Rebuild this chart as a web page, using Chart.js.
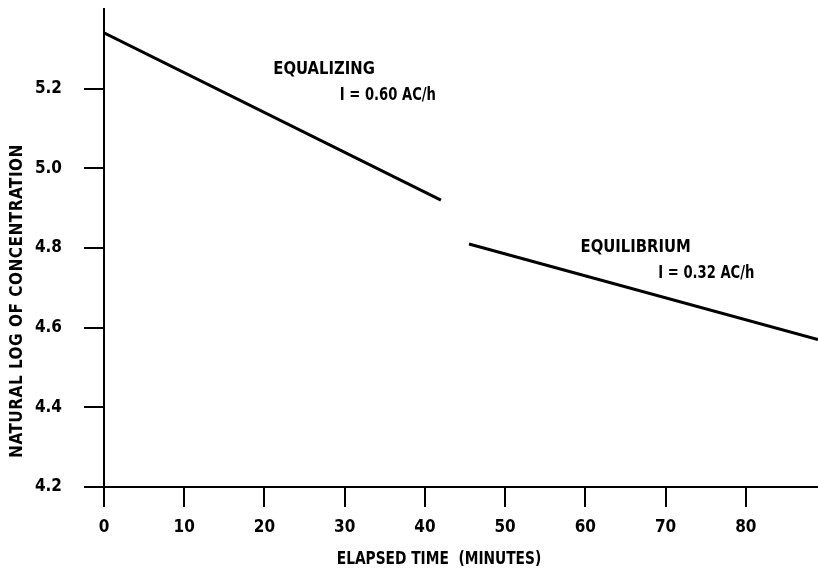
<!DOCTYPE html>
<html>
<head>
<meta charset="utf-8">
<script src="https://cdn.jsdelivr.net/npm/chart.js@4/dist/chart.umd.min.js"></script>
<style>
  html, body { margin: 0; padding: 0; background: #fff; }
  canvas { display: block; }
</style>
</head>
<body>
<canvas id="chart" width="818" height="574"></canvas>
<script>
// two regression segments
const equalizingTime = [0, 42];
const equalizingLog = [5.34, 4.92];
const equilibriumTime = [45.5, 89];
const equilibriumLog = [4.81, 4.57];

const xTicks = [0, 10, 20, 30, 40, 50, 60, 70, 80];
const yTicks = [4.2, 4.4, 4.6, 4.8, 5.0, 5.2];

const notes = [
    { text: 'EQUALIZING', x: 21.1, y: 5.248 },
    { text: 'I = 0.60 AC/h', x: 29.4, y: 5.182 },
    { text: 'EQUILIBRIUM', x: 59.4, y: 4.80 },
    { text: 'I = 0.32 AC/h', x: 69.1, y: 4.737 }
];

const FONT = '"Liberation Sans Narrow", "DejaVu Sans Condensed", "Arial Narrow", sans-serif';

function toPoints(xs, ys) {
    return xs.map((x, i) => ({ x: x, y: ys[i] }));
}

// squeeze text a little, the original lettering is condensed
function narrowText(ctx, text, x, y, squeeze) {
    ctx.save();
    ctx.translate(x, y);
    ctx.scale(squeeze, 1);
    ctx.fillText(text, 0, 0);
    ctx.restore();
}

const textPlugin = {
    id: 'texts',
    afterDraw(chart) {
        const ctx = chart.ctx;
        const sx = chart.scales.x;
        const sy = chart.scales.y;
        ctx.save();
        ctx.fillStyle = '#000';
        ctx.font = 'bold 17px ' + FONT;
        ctx.textBaseline = 'middle';
        ctx.textAlign = 'left';
        notes.forEach(n => {
            const sq = n.text.startsWith('I') ? 0.86 : 0.97;
            narrowText(ctx, n.text, sx.getPixelForValue(n.x), sy.getPixelForValue(n.y), sq);
        });

        // axis titles
        ctx.textAlign = 'center';
        narrowText(ctx, 'ELAPSED TIME  (MINUTES)', 439, 560, 0.9);
        ctx.translate(18, 301);
        ctx.rotate(-Math.PI / 2);
        ctx.letterSpacing = '0.5px';
        ctx.fillText('NATURAL LOG OF CONCENTRATION', 0, 0);
        ctx.restore();
    }
};

new Chart(document.getElementById('chart'), {
    type: 'scatter',
    data: {
        datasets: [
            {
                label: 'Equalizing',
                data: toPoints(equalizingTime, equalizingLog),
                showLine: true,
                borderColor: '#000',
                borderWidth: 3,
                pointRadius: 0
            },
            {
                label: 'Equilibrium',
                data: toPoints(equilibriumTime, equilibriumLog),
                showLine: true,
                borderColor: '#000',
                borderWidth: 3,
                pointRadius: 0
            }
        ]
    },
    options: {
        responsive: false,
        animation: false,
        layout: { padding: { top: 9, right: 0, left: 0, bottom: 0 } },
        plugins: {
            legend: { display: false },
            tooltip: { enabled: false }
        },
        scales: {
            x: {
                type: 'linear',
                min: 0,
                max: 89,
                afterBuildTicks: s => { s.ticks = xTicks.map(v => ({ value: v })); },
                afterFit: s => { s.height = 87; s.paddingLeft = 0; s.paddingRight = 0; },
                border: { color: '#000', width: 2 },
                grid: { drawOnChartArea: false, drawTicks: true, tickLength: 20, color: '#000', lineWidth: 2 },
                ticks: {
                    color: '#000',
                    padding: 10,
                    maxRotation: 0,
                    font: { family: FONT, size: 17, weight: 'bold' }
                }
            },
            y: {
                min: 4.2,
                max: 5.4,
                afterBuildTicks: s => { s.ticks = yTicks.map(v => ({ value: v })); },
                afterFit: s => { s.width = 104; s.paddingTop = 0; s.paddingBottom = 0; },
                border: { color: '#000', width: 2 },
                grid: { drawOnChartArea: false, drawTicks: true, tickLength: 20, color: '#000', lineWidth: 2 },
                ticks: {
                    color: '#000',
                    padding: 22,
                    font: { family: FONT, size: 17, weight: 'bold' },
                    callback: v => v.toFixed(1)
                }
            }
        }
    },
    plugins: [textPlugin]
});
</script>
</body>
</html>
